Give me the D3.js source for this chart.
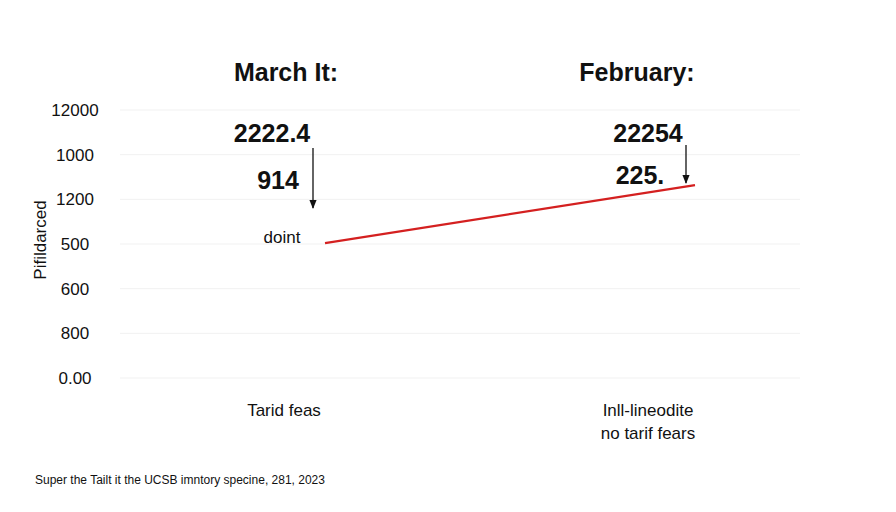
<!DOCTYPE html>
<html>
<head>
<meta charset="utf-8">
<script src="https://cdn.jsdelivr.net/npm/d3@7"></script>
<style>
  body { margin: 0; background: #fff; }
  text { font-family: "Liberation Sans", Arial, sans-serif; fill: #111; }
</style>
</head>
<body>
<svg id="chart" width="896" height="512"></svg>
<script>
// chart data
const categories = ["Tarid feas", "Inll-lineodite|no tarif fears"];
const titles = ["March It:", "February:"];
const topValues = ["2222.4", "22254"];
const midValues = ["914", "225."];
const lineValues = [604, 864];
const tickValues = [1200, 1000, 800, 600, 400, 200, 0];
const tickLabels = ["12000", "1000", "1200", "500", "600", "800", "0.00"];

const svg = d3.select("#chart");

const y = d3.scaleLinear().domain([0, 1200]).range([378, 110]);
const x = d3.scalePoint().domain(categories).range([284, 648]);

// faint gridlines
svg.append("g").selectAll("line").data(tickValues).join("line")
  .attr("x1", 120).attr("x2", 800)
  .attr("y1", d => y(d)).attr("y2", d => y(d))
  .attr("stroke", "#f1f1f1").attr("stroke-width", 1);

// tick labels
svg.append("g").selectAll("text").data(tickValues).join("text")
  .attr("x", 75).attr("y", d => y(d)).attr("dy", "0.35em")
  .attr("text-anchor", "middle").attr("font-size", 17)
  .text((d, i) => tickLabels[i]);

// y axis title
svg.append("text")
  .attr("transform", "translate(46,240) rotate(-90)")
  .attr("text-anchor", "middle").attr("font-size", 17)
  .text("Pifildarced");

// titles
svg.append("g").selectAll("text").data(titles).join("text")
  .attr("x", (d, i) => x(categories[i]) + (i ? -11 : 2)).attr("y", 81)
  .attr("text-anchor", "middle").attr("font-size", 25).attr("font-weight", "bold")
  .text(d => d);

// value labels
svg.append("g").selectAll("text").data(topValues).join("text")
  .attr("x", (d, i) => x(categories[i]) + (i ? 0 : -12)).attr("y", 142)
  .attr("text-anchor", "middle").attr("font-size", 25).attr("font-weight", "bold")
  .text(d => d);
svg.append("g").selectAll("text").data(midValues).join("text")
  .attr("x", (d, i) => x(categories[i]) + (i ? -8 : -6)).attr("y", (d, i) => i ? 184 : 189)
  .attr("text-anchor", "middle").attr("font-size", 25).attr("font-weight", "bold")
  .text(d => d);

svg.append("text")
  .attr("x", x(categories[0]) - 2).attr("y", 243)
  .attr("text-anchor", "middle").attr("font-size", 17)
  .text("doint");

// arrows
const defs = svg.append("defs");
defs.append("marker").attr("id", "arr")
  .attr("viewBox", "0 0 10 10").attr("refX", 9).attr("refY", 5)
  .attr("markerWidth", 7).attr("markerHeight", 9).attr("orient", "auto")
  .append("path").attr("d", "M0,1 L10,5 L0,9 Z").attr("fill", "#111");

const arrows = [[313, 148, 208], [686, 145, 183]];
svg.append("g").selectAll("line").data(arrows).join("line")
  .attr("x1", d => d[0]).attr("x2", d => d[0])
  .attr("y1", d => d[1]).attr("y2", d => d[2])
  .attr("stroke", "#111").attr("stroke-width", 1.3)
  .attr("marker-end", "url(#arr)");

// red line
const offsets = [41, 47];
svg.append("path")
  .datum(lineValues)
  .attr("fill", "none").attr("stroke", "#d42020").attr("stroke-width", 2.2)
  .attr("d", d3.line()
    .x((d, i) => x(categories[i]) + offsets[i])
    .y(d => y(d)));

// category labels
const cat = svg.append("g").selectAll("text").data(categories).join("text")
  .attr("x", d => x(d)).attr("y", 416)
  .attr("text-anchor", "middle").attr("font-size", 17);
cat.selectAll("tspan").data(d => d.split("|")).join("tspan")
  .attr("x", function() { return d3.select(this.parentNode).attr("x"); })
  .attr("dy", (d, i) => i ? 23 : 0)
  .text(d => d);

// footer
svg.append("text")
  .attr("x", 35).attr("y", 484).attr("font-size", 12)
  .text("Super the Tailt it the UCSB imntory specine, 281, 2023");
</script>
</body>
</html>
